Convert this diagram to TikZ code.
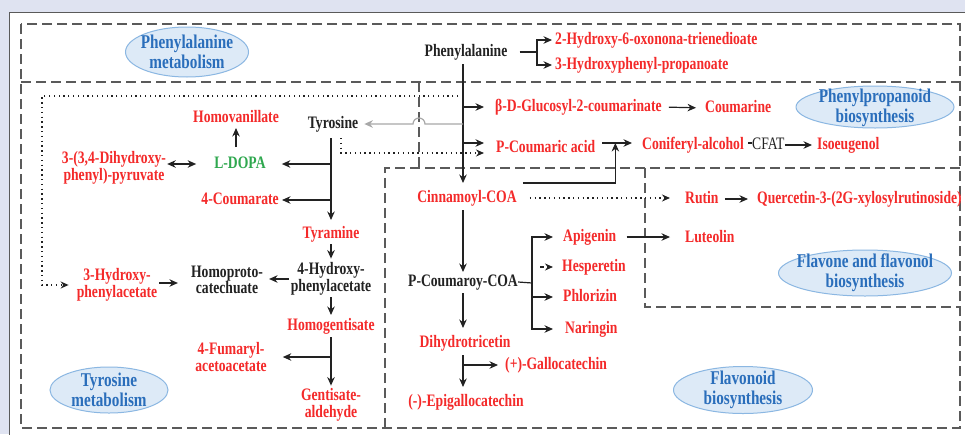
\documentclass[tikz,border=0pt]{standalone}
\usepackage{fontspec}
\setmainfont{Liberation Serif}[FakeStretch=0.78]
\usetikzlibrary{arrows.meta,calc}
\definecolor{rd}{HTML}{F42A2A}
\definecolor{gn}{HTML}{2FA84F}
\definecolor{bl}{HTML}{2A6EBB}
\definecolor{ef}{HTML}{DDEAF7}
\definecolor{eb}{HTML}{8BB7E2}
\definecolor{bgc}{HTML}{DFE3F1}
\definecolor{dg}{HTML}{5A5A5A}
\definecolor{ink}{HTML}{222222}
\definecolor{gry}{HTML}{A8A8A8}
\begin{document}
\begin{tikzpicture}[x=1pt,y=-1pt,
 lab/.style={font=\fontsize{17.5}{16.5}\selectfont\bfseries, inner sep=0pt, text height=11.8pt, text depth=3.8pt},
 ml/.style={font=\fontsize{17.5}{16.5}\selectfont\bfseries, inner sep=0pt, align=center},
 tr/.style={text=rd}, tk/.style={text=ink}, tg/.style={text=gn},
 etx/.style={font=\fontsize{19.5}{20}\selectfont\bfseries, text=bl, align=center, inner sep=0pt},
 ell/.style={draw=eb, fill=ef, line width=1pt},
 dbox/.style={draw=dg, line width=1.6pt, dash pattern=on 10pt off 5pt},
 conn/.style={draw=ink, line width=1.2pt},
 arr/.style={conn, -{Stealth[length=8.5pt,width=7.5pt]}},
 dblarr/.style={conn, {Stealth[length=8.5pt,width=7.5pt]}-{Stealth[length=8.5pt,width=7.5pt]}},
 dotarr/.style={draw=ink, line width=1.3pt, dash pattern=on 1.3pt off 3.5pt, -{Stealth[length=8pt,width=7pt]}},
 dasharr/.style={draw=ink, line width=1.2pt, dash pattern=on 4pt off 3pt, -{Stealth[length=8pt,width=7pt]}},
 grayarr/.style={draw=gry, line width=1.2pt, -{Stealth[length=8.5pt,width=7.5pt]}}
]
\useasboundingbox (0,0) rectangle (965,434);
\clip (0,0) rectangle (965,434);
% background panel
\fill[bgc] (0,0) rectangle (965,434);
\fill[white] (9,12) rectangle (975,445);
\draw[dg, line width=0.8pt] (9,445) -- (9,12) -- (975,12);

% dashed boxes
\draw[dbox] (21,24) rectangle (960,428);
\draw[dbox] (21,82) -- (960,82);
\draw[dbox] (419,82) -- (419,168);
\draw[dbox] (385,428) -- (385,168) -- (960,168);
\draw[dbox] (645,168) -- (645,307) -- (960,307);

% ellipses
\draw[ell] (187,52) ellipse [x radius=61.5, y radius=25];
\node[etx] (e1) at (187,52) {Phenylalanine\\metabolism};
\draw[ell] (875,107) ellipse [x radius=79, y radius=21];
\node[etx] (e2) at (875,108) {Phenylpropanoid\\biosynthesis};
\draw[ell] (109,390) ellipse [x radius=59, y radius=23];
\node[etx] (e3) at (109,390) {Tyrosine\\metabolism};
\draw[ell] (865,273) ellipse [x radius=86.5, y radius=23];
\node[etx] (e4) at (865,273) {Flavone and flavonol\\biosynthesis};
\draw[ell] (743,390) ellipse [x radius=69.5, y radius=23.5];
\node[etx] (e5) at (743,390) {Flavonoid\\biosynthesis};

% top
\node[lab,tk] (phe) at (466,52) {Phenylalanine};
\node[lab,tr,anchor=west] (hox) at (555,40) {2-Hydroxy-6-oxonona-trienedioate};
\node[lab,tr,anchor=west] (hpp) at (555,65) {3-Hydroxyphenyl-propanoate};

% phenylpropanoid
\node[lab,tr,anchor=west] (bdg) at (495,107) {β-D-Glucosyl-2-coumarinate};
\node[lab,tr,anchor=west] (cou) at (705,108) {Coumarine};
\node[lab,tr,anchor=west] (pca) at (496,148) {P-Coumaric acid};
\node[lab,tr,anchor=west] (con) at (642,145) {Coniferyl-alcohol};
\node[lab,tk,anchor=west,font=\fontsize{17.5}{16.5}\selectfont] (cfat) at (752,145) {CFAT};
\node[lab,tr,anchor=west] (iso) at (817,145) {Isoeugenol};

% tyrosine
\node[lab,tk] (tyr) at (333,124) {Tyrosine};
\node[lab,tr] (hv) at (236,118) {Homovanillate};
\node[lab,tg] (ld) at (240,164) {L-DOPA};
\node[ml,tr] (dh) at (114,168) {3-(3,4-Dihydroxy-\\phenyl)-pyruvate};
\node[lab,tr,anchor=east] (c4) at (279,200) {4-Coumarate};
\node[lab,tr] (tya) at (331,234) {Tyramine};
\node[ml,tk] (hpa) at (331,279) {4-Hydroxy-\\phenylacetate};
\node[ml,tk] (hpc) at (227,280) {Homoproto-\\catechuate};
\node[ml,tr] (hyp) at (117,285) {3-Hydroxy-\\phenylacetate};
\node[lab,tr] (hg) at (331,326) {Homogentisate};
\node[ml,tr] (fa) at (231,357) {4-Fumaryl-\\acetoacetate};
\node[ml,tr] (ga) at (331,405) {Gentisate-\\aldehyde};

% flavonoid
\node[lab,tr] (cin) at (467,198) {Cinnamoyl-COA};
\node[lab,tk] (pco) at (463,282) {P-Coumaroy-COA};
\node[lab,tr,anchor=west] (api) at (563,237) {Apigenin};
\node[lab,tr,anchor=west] (hes) at (562,267) {Hesperetin};
\node[lab,tr,anchor=west] (phl) at (563,297) {Phlorizin};
\node[lab,tr,anchor=west] (nar) at (565,329) {Naringin};
\node[lab,tr,anchor=west] (lut) at (685,238) {Luteolin};
\node[lab,tr,anchor=west] (rut) at (685,199) {Rutin};
\node[lab,tr,anchor=west] (que) at (757,199) {Quercetin-3-(2G-xylosylrutinoside)};
\node[lab,tr] (dht) at (465,343) {Dihydrotricetin};
\node[lab,tr,anchor=west] (gc) at (505,365) {(+)-Gallocatechin};
\node[lab,tr] (egc) at (466,402) {(-)-Epigallocatechin};

% junction coordinates
\coordinate (j1) at (537,52);
\coordinate (pv) at (463,64);
\coordinate (tv) at (331,138);
\coordinate (j2) at (532,283);
\coordinate (d1) at (463,96);
\coordinate (d2) at (341,138);

% top connectors
\draw[conn, shorten <=12pt] (phe.east) -- (j1);
\draw[arr, shorten >=3pt] (j1) |- (hox.west);
\draw[arr, shorten >=3pt] (j1) |- (hpp.west);

% phenylalanine main line
\draw[arr, shorten >=7pt] (pv) -- (pv |- cin.north);
\draw[arr, shorten >=11pt] (pv |- bdg.west) -- (bdg.west);
\draw[arr] ($(pv |- pca.west)+(0,-5)$) -- ($(pca.west)+(-12,-5)$);
\draw[dotarr] (d2) |- ($(pca.west)+(-12,5)$);
\draw[grayarr, shorten >=6pt] (pv |- tyr.east) -- (425,124) arc[start angle=0, end angle=-180, radius=6] -- (tyr.east);
\draw[dotarr, shorten >=8pt] (d1) -- (42,96) |- (hyp.west);

% phenylpropanoid connectors
\draw[arr, shorten <=7pt, shorten >=9pt] (bdg.east) -- (cou.west);
\draw[arr] ($(pca.east)+(7,-5)$) -- ($(con.west)+(-10,-2)$);
\draw[arr] ($(cin.north east)+(6,-7)$) -| ($(pca.east)+(20,-5)$);
\draw[conn, shorten <=4pt] ($(con.east)+(0,-2)$) -- ($(cfat.west)+(0,-2)$);
\draw[arr, shorten >=5pt] (cfat.east) -- (iso.west);

% tyrosine connectors
\draw[arr, shorten >=6pt] (tv) -- (tv |- tya.north);
\draw[arr, shorten >=16pt] (tv |- ld.east) -- (ld.east);
\draw[arr, shorten >=3pt] (tv |- c4.east) -- (c4.east);
\draw[arr, shorten <=9pt, shorten >=2pt] (hv.south |- ld.north) -- (hv.south);
\draw[dblarr, shorten <=1pt, shorten >=18pt] (dh.east |- ld.west) -- (ld.west);
\draw[arr, shorten <=2pt, shorten >=4pt] (tya.south) -- (hpa.north);
\draw[arr, shorten <=2pt, shorten >=6pt] (hpa.west) -- (hpa.west -| hpc.east);
\draw[arr, shorten <=2pt, shorten >=13pt] ($(hyp.east)+(0,-2)$) -- ($(hyp.east -| hpc.west)+(0,-2)$);
\draw[arr, shorten <=2pt, shorten >=3pt] (hpa.south) -- (hg.north);
\draw[arr, shorten <=3pt, shorten >=3pt] (hg.south) -- (ga.north);
\draw[arr, shorten >=16pt] (hg.south |- fa.east) -- (fa.east);

% flavonoid connectors
\draw[arr, shorten <=4pt, shorten >=2pt] (pv |- cin.south) -- (pv |- pco.north);
\draw[conn] (pco.east) -- (j2);
\draw[arr, shorten >=10pt] (j2) |- (api.west);
\draw[arr, shorten >=10pt] (j2) |- (phl.west);
\draw[arr, shorten >=12pt] (j2) |- (nar.west);
\draw[dasharr, shorten >=9pt] ($(hes.west)+(-22,0)$) -- (hes.west);
\draw[arr, shorten <=3pt, shorten >=7pt] (pv |- pco.south) -- (pv |- dht.north);
\draw[arr, shorten <=4pt, shorten >=7pt] (pv |- dht.south) -- (pv |- egc.north);
\draw[arr, shorten >=7pt] (pv |- gc.west) -- (gc.west);
\draw[dotarr, shorten <=13pt, shorten >=15pt] (cin.east) -- (cin.east -| rut.west);
\draw[arr, shorten <=6pt, shorten >=9pt] (rut.east) -- (que.west);
\draw[arr, shorten <=10pt, shorten >=15pt] (api.east) -- (api.east -| lut.west);
\end{tikzpicture}
\end{document}
